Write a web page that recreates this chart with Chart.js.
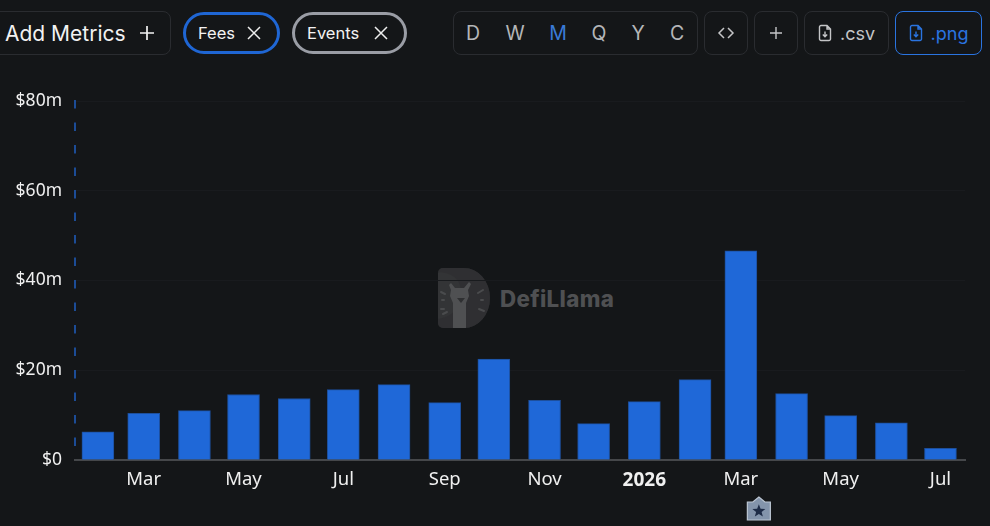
<!DOCTYPE html>
<html><head><meta charset="utf-8">
<style>
html,body{margin:0;padding:0;background:#141618;width:990px;height:526px;overflow:hidden;font-family:Inter,sans-serif}
#wrap{position:absolute;left:0;top:0;width:990px;height:526px}
canvas{position:absolute;left:0;top:0}
.b{position:absolute;box-sizing:border-box;border:1px solid #2a2c30;border-radius:8px;top:11px;height:44px;display:flex;align-items:center;justify-content:center;color:#c4c5c7;font-size:18px}
.pill{position:absolute;box-sizing:border-box;top:12px;height:42px;border-radius:21px;border:3px solid;display:flex;align-items:center;color:#f2f2f2;font-size:16.5px;padding-left:12px}
.p{position:absolute;top:11px;height:44px;display:flex;align-items:center;justify-content:center;font-size:19.5px;color:#b5b6b8;transform:translateX(-50%)}
svg{display:block}
</style></head><body><div id="wrap">
<div class="b" style="left:-10px;width:181px;color:#f2f2f2;font-size:21px;justify-content:flex-start;padding-left:14px">Add Metrics
<svg style="position:absolute;left:147px;top:12px" width="18" height="18"><path d="M9 2v14M2 9h14" stroke="#f2f2f2" stroke-width="1.7"/></svg></div>
<div class="pill" style="left:183px;width:97px;border-color:#1f66d4">Fees
<svg style="position:absolute;left:61px;top:11px" width="14" height="14"><path d="M1 1l12 12M13 1L1 13" stroke="#eee" stroke-width="1.5"/></svg></div>
<div class="pill" style="left:292px;width:115px;border-color:#9a9da5">Events
<svg style="position:absolute;left:79px;top:11px" width="14" height="14"><path d="M1 1l12 12M13 1L1 13" stroke="#eee" stroke-width="1.5"/></svg></div>
<div class="b" style="left:453px;width:245px"></div>
<div class="p" style="left:473px">D</div><div class="p" style="left:515px">W</div><div class="p" style="left:558px;color:#3a7bd8">M</div><div class="p" style="left:599px">Q</div><div class="p" style="left:638px">Y</div><div class="p" style="left:677px">C</div>
<div class="b" style="left:704px;width:44px"><svg width="18" height="14"><path d="M7 2L2 7l5 5M11 2l5 5-5 5" fill="none" stroke="#c4c5c7" stroke-width="1.5"/></svg></div>
<div class="b" style="left:754px;width:44px"><svg width="14" height="14"><path d="M7 1v12M1 7h12" stroke="#c4c5c7" stroke-width="1.4"/></svg></div>
<div class="b" style="left:804px;width:85px;gap:8px"><svg width="14" height="18"><path d="M1.500 3a1.500 1.500 0 0 1 1.500-1.500h6l3.500 3.500v10a1.500 1.500 0 0 1-1.500 1.500H3A1.500 1.500 0 0 1 1.500 15zM9 1.500V5h3.500M7 7.500v5M4.800 10.500L7 12.700l2.200-2.200" fill="none" stroke="#c4c5c7" stroke-width="1.4"/></svg>.csv</div>
<div class="b" style="left:895px;width:87px;gap:8px;border-color:#2a74e0;color:#2a74e0"><svg width="14" height="18"><path d="M1.500 3a1.500 1.500 0 0 1 1.500-1.500h6l3.500 3.500v10a1.500 1.500 0 0 1-1.500 1.500H3A1.500 1.500 0 0 1 1.500 15zM9 1.500V5h3.500M7 7.500v5M4.800 10.500L7 12.700l2.200-2.200" fill="none" stroke="#2a74e0" stroke-width="1.4"/></svg>.png</div>
<svg style="position:absolute;left:437px;top:267px" width="190" height="62">
<path d="M6 1h21a26 30 0 0 1 0 60H6a5 5 0 0 1-5-5V6a5 5 0 0 1 5-5z" fill="#333436"/>
<path d="M6 1h21a26 30 0 0 1 0 60H6a5 5 0 0 1-5-5v-4c12-2 20-8 22-20 4-18-6-26-22-27V6a5 5 0 0 1 5-5z" fill="#2d2e30" opacity=".7"/>
<path d="M16 61V36l-3-7 1-6-2-5 2-2 4 5h9l5-6 2 2-3 6 1 6-3 7V61z" fill="#4f5052"/>
<path d="M20 31l8 0-4 5z" fill="#2f3032"/>
<g stroke="#4a4b4d" stroke-width="2" stroke-linecap="round"><path d="M8 27l-4-2M7 42h-3M41 26l5-3M42 42l5 2M44 33h2M5 33h2M10 45l-4 2"/></g>
<text x="63" y="40" font-family="Inter,sans-serif" font-weight="800" font-size="22.300" fill="#4f5052" letter-spacing=".35">DefiLlama</text>
</svg>
<canvas id="c" width="990" height="526"></canvas>
</div>
<script src="https://cdn.jsdelivr.net/npm/chart.js@4/dist/chart.umd.min.js"></script>
<script>
const months = ["2025-02-01","2025-03-01","2025-04-01","2025-05-01","2025-06-01","2025-07-01","2025-08-01","2025-09-01","2025-10-01","2025-11-01","2025-12-01","2026-01-01","2026-02-01","2026-03-01","2026-04-01","2026-05-01","2026-06-01","2026-07-01"];
const fees = [6.3,10.4,11.0,14.6,13.7,15.7,16.8,12.8,22.5,13.3,8.1,13.0,17.9,46.6,14.8,9.9,8.3,2.6];
const tickDates = ["2025-03-01","2025-05-01","2025-07-01","2025-09-01","2025-11-01","2026-01-01","2026-03-01","2026-05-01","2026-07-01"];
const tickLabels = ["Mar","May","Jul","Sep","Nov","2026","Mar","May","Jul"];
const eventDates = ["2026-03-12"];
const yTicks = [0,20,40,60,80];
const day = s => Date.parse(s+"T00:00:00Z")/86400000;
const xStart = day("2025-01-18"), xEnd = day("2026-07-16");

const overlayPlugin = {id:"overlay",
 beforeDatasetsDraw(ch){
  const c=ch.ctx,a=ch.chartArea;
  c.save();c.strokeStyle="#1f5fc0";c.lineWidth=1.5;c.setLineDash([8.5,14]);
  c.beginPath();c.moveTo(a.left,a.top-1);c.lineTo(a.left,a.bottom-10);c.stroke();c.restore();
 },
 afterDraw(ch){
  const c=ch.ctx;
  for(const d of eventDates){
    const x=ch.scales.x.getPixelForValue(day(d)),y=497;
    c.save();
    c.beginPath();c.moveTo(x,y);c.lineTo(x+6,y+5);c.lineTo(x+11.5,y+5);c.lineTo(x+11.5,y+23);c.lineTo(x-11.5,y+23);c.lineTo(x-11.5,y+5);c.lineTo(x-6,y+5);c.closePath();
    c.fillStyle="#8394ab";c.strokeStyle="#bcc6d3";c.lineWidth=1.2;c.fill();c.stroke();
    c.beginPath();
    for(let i=0;i<10;i++){const r=i%2?2.9:6.8,a=-Math.PI/2+i*Math.PI/5;c.lineTo(x+r*Math.cos(a),y+14+r*Math.sin(a));}
    c.closePath();c.fillStyle="#1e2c47";c.fill();c.restore();
  }
 }};
new Chart(document.getElementById("c"),{
  type:"bar",
  data:{datasets:[{label:"Fees",data:months.map((m,i)=>({x:day(m),y:fees[i]})),
    backgroundColor:"#1f68d8",borderColor:"#1d4f9c",borderWidth:1,barThickness:32}]},
  plugins:[overlayPlugin],
  options:{responsive:false,animation:false,
    layout:{padding:{left:0,right:25,top:101,bottom:0}},
    plugins:{legend:{display:false},tooltip:{enabled:false}},
    scales:{
      x:{type:"linear",min:xStart,max:xEnd,offset:false,
        afterBuildTicks(a){a.ticks=tickDates.map(d=>({value:day(d)}));},
        afterFit(a){a.height=66;},
        grid:{display:false,drawTicks:true,tickLength:7,tickColor:"#d8d8d8",tickWidth:1},
        border:{color:"#45474a",width:2},
        ticks:{autoSkip:false,maxRotation:0,padding:2,color:"#f0f0f0",
          callback:(v,i)=>tickLabels[i],
          font:c=>({family:"Noto Sans",size:tickLabels[c.index]==="2026"?19:18.5,weight:tickLabels[c.index]==="2026"?"bold":"normal"})}
      },
      y:{min:0,max:80,
        afterBuildTicks(a){a.ticks=yTicks.map(v=>({value:v}));},
        afterFit(a){a.width=75;},
        grid:{color:"#191b1e",drawTicks:false,lineWidth:1},
        border:{display:false},
        ticks:{padding:13,color:"#f0f0f0",font:{family:"Noto Sans",size:17.5},callback:v=>v===0?"$0":"$"+v+"m"}
      }
    }
  }
});
</script>
</body></html>
